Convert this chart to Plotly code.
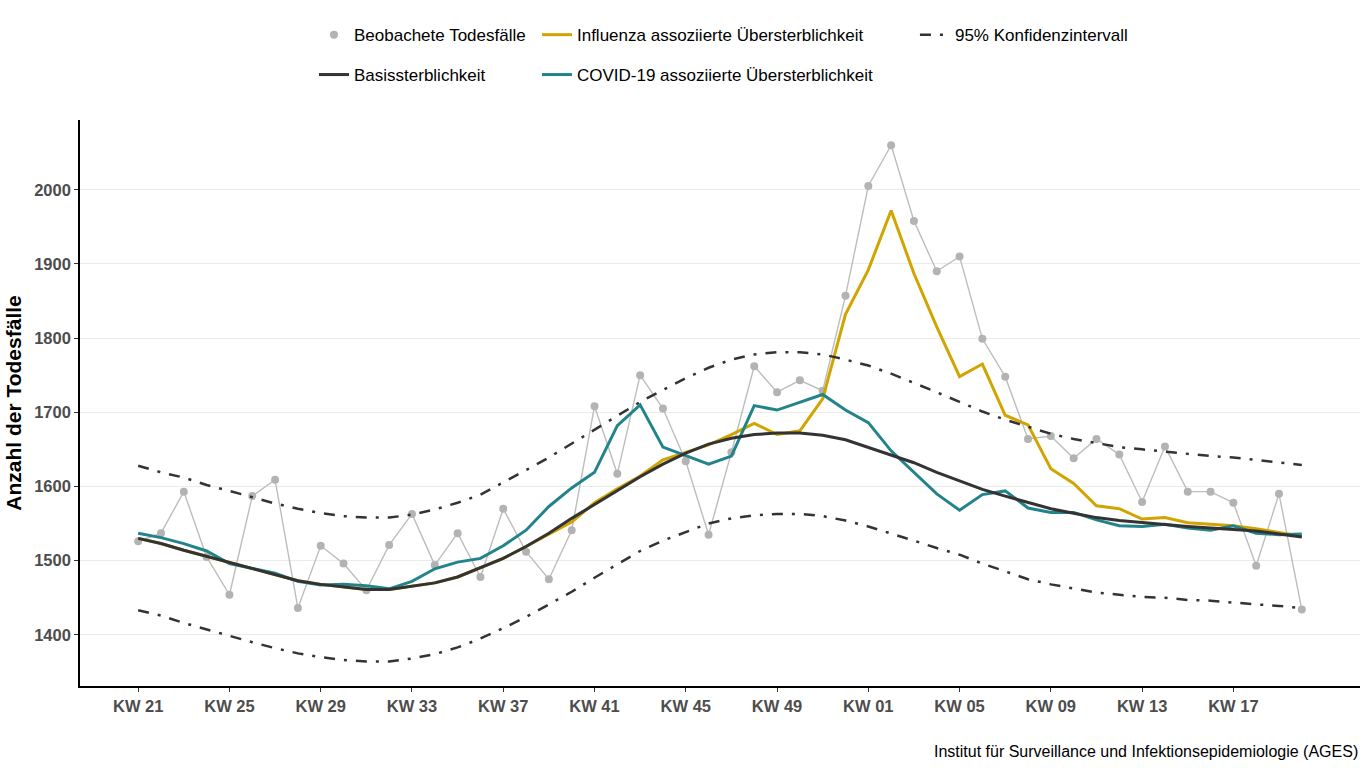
import plotly.graph_objects as go

weeks = [f"KW {w:02d}" for w in range(21, 53)] + [f"KW {w:02d}" for w in range(1, 21)]
tick_weeks = weeks[::4]

observed = [1526, 1537, 1593, 1505, 1454, 1587, 1609, 1436, 1520, 1496, 1460, 1521, 1563, 1494, 1537, 1478,
            1570, 1512, 1475, 1541, 1708, 1617, 1750, 1705, 1634, 1535, 1646, 1762, 1727, 1743, 1729, 1857,
            2005, 2060, 1958, 1890, 1910, 1799, 1748, 1664, 1668, 1638, 1664, 1643, 1579, 1654, 1593, 1593,
            1578, 1493, 1590, 1434]

base = [1530, 1523, 1514, 1506, 1498, 1489, 1481, 1473, 1468, 1464, 1461, 1461, 1465, 1470, 1478, 1490,
        1503, 1519, 1537, 1557, 1576, 1595, 1613, 1630, 1645, 1657, 1665, 1670, 1672, 1672, 1669, 1663,
        1653, 1642, 1632, 1619, 1607, 1596, 1587, 1578, 1570, 1564, 1558, 1554, 1551, 1549, 1546, 1544,
        1542, 1540, 1536, 1532]

influenza = [1530, 1523, 1514, 1506, 1498, 1489, 1481, 1473, 1468, 1464, 1461, 1461, 1465, 1470, 1478, 1490,
             1503, 1519, 1535, 1552, 1578, 1597, 1614, 1636, 1646, 1656, 1670, 1685, 1670, 1675, 1718, 1832,
             1892, 1972, 1887, 1815, 1748, 1765, 1696, 1683, 1624, 1604, 1574, 1570, 1556, 1558, 1551, 1549,
             1547, 1543, 1538, 1533]

covid = [1537, 1531, 1523, 1513, 1496, 1490, 1483, 1472, 1467, 1468, 1466, 1462, 1472, 1489, 1498, 1503,
         1520, 1541, 1573, 1598, 1619, 1682, 1710, 1653, 1641, 1630, 1641, 1709, 1703, 1714, 1724, 1703,
         1686, 1648, 1619, 1590, 1568, 1589, 1594, 1571, 1565, 1565, 1555, 1547, 1546, 1549, 1544, 1541,
         1547, 1537, 1535, 1536]

ci_upper = [1628, 1619, 1612, 1602, 1594, 1585, 1577, 1570, 1564, 1560, 1558, 1558, 1562, 1569, 1578, 1589,
            1605, 1622, 1639, 1658, 1677, 1695, 1714, 1730, 1746, 1760, 1771, 1778, 1781, 1781, 1778, 1771,
            1763, 1752, 1740, 1727, 1714, 1701, 1690, 1680, 1671, 1664, 1658, 1653, 1650, 1647, 1644, 1641,
            1639, 1636, 1633, 1629]

ci_lower = [1433, 1426, 1416, 1407, 1398, 1390, 1382, 1375, 1370, 1366, 1364, 1364, 1368, 1374, 1383, 1395,
            1409, 1424, 1441, 1458, 1477, 1495, 1513, 1527, 1539, 1550, 1557, 1561, 1563, 1563, 1560, 1554,
            1546, 1537, 1527, 1517, 1508, 1496, 1485, 1475, 1468, 1462, 1457, 1454, 1451, 1450, 1447, 1446,
            1443, 1441, 1439, 1436]

y_ticks = [1400, 1500, 1600, 1700, 1800, 1900, 2000]

GRAY = "#B3B3B3"
GOLD = "#D1A400"
TEAL = "#22848A"
DARK = "#333333"
FONT = "Liberation Sans, Arial, sans-serif"
DASH = "11px,9px,3px,9px"

fig = go.Figure()

fig.add_trace(go.Scatter(x=weeks, y=observed, mode="lines", line=dict(color="#BDBDBD", width=1.4),
                         showlegend=False, hoverinfo="skip"))
fig.add_trace(go.Scatter(x=weeks, y=observed, mode="markers", marker=dict(color=GRAY, size=8),
                         name="Beobachete Todesfälle", legend="legend"))
fig.add_trace(go.Scatter(x=weeks, y=influenza, mode="lines", line=dict(color=GOLD, width=3),
                         name="Influenza assoziierte Übersterblichkeit", legend="legend3"))
fig.add_trace(go.Scatter(x=weeks, y=covid, mode="lines", line=dict(color=TEAL, width=3),
                         name="COVID-19 assoziierte Übersterblichkeit", legend="legend4"))
fig.add_trace(go.Scatter(x=weeks, y=base, mode="lines", line=dict(color=DARK, width=3),
                         name="Basissterblichkeit", legend="legend2"))
fig.add_trace(go.Scatter(x=weeks, y=ci_upper, mode="lines", line=dict(color=DARK, width=2.5, dash=DASH),
                         name="95% Konfidenzintervall", legend="legend5"))
fig.add_trace(go.Scatter(x=weeks, y=ci_lower, mode="lines", line=dict(color=DARK, width=2.5, dash=DASH),
                         showlegend=False))

legend_common = dict(orientation="h", font=dict(family=FONT, size=17, color="black"),
                     bgcolor="rgba(0,0,0,0)", xanchor="left", yanchor="middle", itemwidth=30)

fig.update_layout(
    width=1370, height=770,
    margin=dict(l=80, r=10, t=120, b=84),
    paper_bgcolor="white", plot_bgcolor="white",
    font=dict(family=FONT),
    legend=dict(**legend_common, x=0.1828, y=1.150),
    legend2=dict(**legend_common, x=0.1828, y=1.0795),
    legend3=dict(**legend_common, x=0.357, y=1.150),
    legend4=dict(**legend_common, x=0.357, y=1.0795),
    legend5=dict(**legend_common, x=0.6523, y=1.150),
    xaxis=dict(type="category", categoryorder="array", categoryarray=weeks,
               range=[-2.55, 53.55], tickvals=tick_weeks, ticktext=tick_weeks,
               showgrid=False, zeroline=False, showline=True, linecolor="black", linewidth=1.6,
               ticks="outside", ticklen=4, tickcolor="#333333", tickwidth=1,
               tickfont=dict(family=FONT, size=16.5, color="#4D4D4D", weight="bold")),
    yaxis=dict(range=[1331, 2094], tickvals=y_ticks, showgrid=True, gridcolor="#EBEBEB", gridwidth=1.2,
               zeroline=False, showline=True, linecolor="black", linewidth=1.6,
               ticks="outside", ticklen=4, tickcolor="#333333", tickwidth=1,
               tickfont=dict(family=FONT, size=16.5, color="#4D4D4D", weight="bold"),
               title=dict(text="Anzahl der Todesfälle", standoff=7,
                          font=dict(family=FONT, size=21, color="black", weight="bold"))),
    annotations=[dict(text="Institut für Surveillance und Infektionsepidemiologie (AGES)",
                      xref="paper", yref="paper", x=1.0, y=-0.115, xanchor="right", yanchor="middle",
                      showarrow=False, font=dict(family=FONT, size=16, color="black"))],
)

fig.write_html("out.html")
